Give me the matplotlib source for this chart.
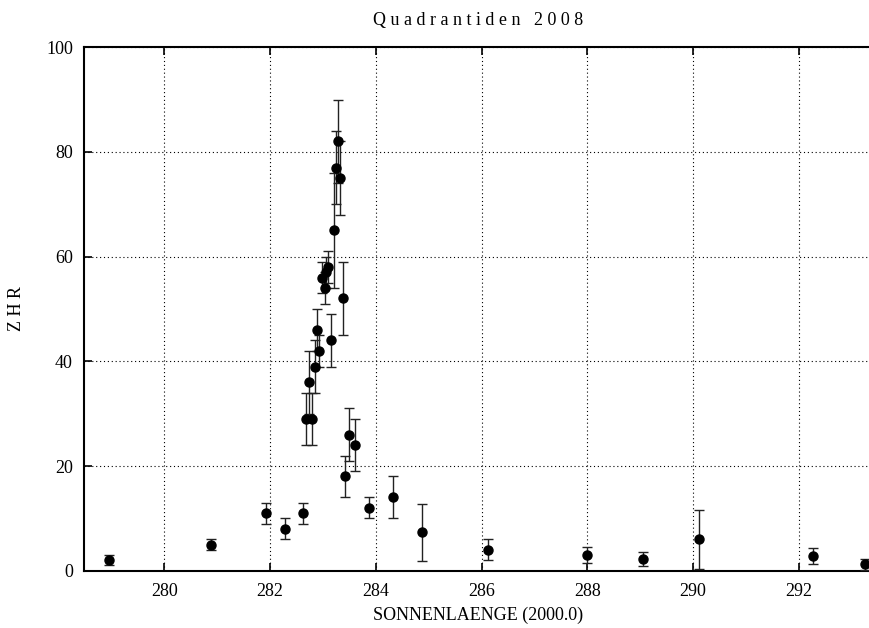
import matplotlib
matplotlib.use("Agg")
import matplotlib.pyplot as plt
from matplotlib.ticker import MultipleLocator

sol = [278.96, 280.89, 281.92, 282.28, 282.63, 282.68, 282.79, 282.74, 282.84,
       282.89, 282.93, 282.98, 283.03, 283.06, 283.10, 283.15, 283.20, 283.24,
       283.29, 283.33, 283.38, 283.42, 283.50, 283.61, 283.88, 284.32, 284.88,
       286.12, 288.00, 289.05, 290.12, 292.26, 293.26]
zhr = [2, 5, 11, 8, 11, 29, 29, 36, 39,
       46, 42, 56, 54, 57, 58, 44, 65, 77,
       82, 75, 52, 18, 26, 24, 12, 14, 7.3,
       4, 3, 2.2, 6, 2.8, 1.2]
err = [1, 1, 2, 2, 2, 5, 5, 6, 5,
       4, 3, 3, 3, 3, 3, 5, 11, 7,
       8, 7, 7, 4, 5, 5, 2, 4, 5.5,
       2, 1.5, 1.3, 5.6, 1.5, 1.1]

plt.rcParams['font.family'] = ['Liberation Serif', 'DejaVu Serif']

fig = plt.figure(figsize=(8.7, 6.28), dpi=100)
ax = fig.add_axes([84/870, (628-570.7)/628, 1 - 84/870 + 0.002, (570.7-47.2)/628])

ax.errorbar(sol, zhr, yerr=err, fmt='o', color='black', ms=6.5,
            ecolor='#222222', elinewidth=1.0, capsize=3.5, capthick=1.0, zorder=3,
            clip_on=False)

ax.set_xlim(278.48, 293.38)
ax.set_ylim(0, 100)
ax.xaxis.set_major_locator(MultipleLocator(2))
ax.yaxis.set_major_locator(MultipleLocator(20))
ax.grid(True, linestyle=(0, (1, 2.5)), color='black', linewidth=0.8)
ax.set_axisbelow(True)
ax.tick_params(direction='in', length=6, width=1.2, top=True, right=False,
               labelsize=13, pad=9)
ax.tick_params(axis='y', pad=8)
for s in ['left', 'bottom', 'top']:
    ax.spines[s].set_linewidth(1.5)
ax.spines['right'].set_visible(False)

ax.set_xlabel('SONNENLAENGE (2000.0)', fontsize=13, labelpad=5)
ax.set_ylabel('Z H R', fontsize=13, labelpad=15)
ax.set_title('Q u a d r a n t i d e n   2 0 0 8', fontsize=13, pad=16)

fig.savefig('out.png', dpi=100)
